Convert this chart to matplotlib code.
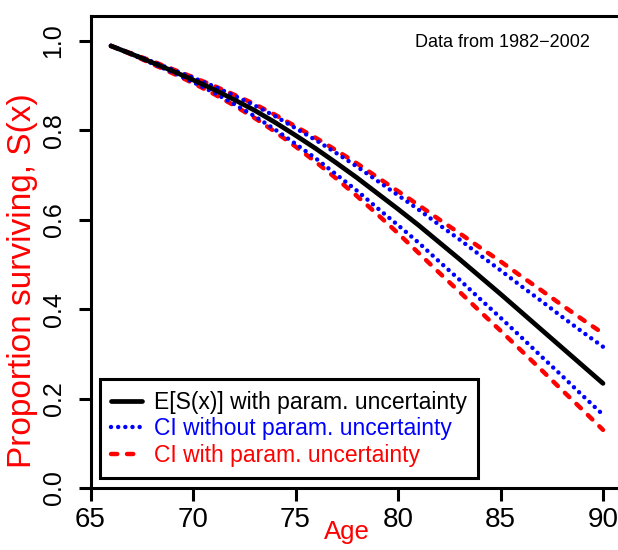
import numpy as np
import matplotlib
matplotlib.use('Agg')
import matplotlib.pyplot as plt

plt.rcParams['font.family'] = ['Liberation Sans', 'DejaVu Sans']

# Ages and survival curves
ages = list(range(66, 91))

mean_surv = [0.989, 0.971, 0.952, 0.933, 0.913, 0.892, 0.869, 0.845, 0.818, 0.789,
             0.759, 0.727, 0.694, 0.659, 0.624, 0.588, 0.550, 0.512, 0.473, 0.434,
             0.394, 0.354, 0.314, 0.274, 0.234]

ci_noparam_hi = [0.989, 0.972, 0.954, 0.936, 0.918, 0.899, 0.878, 0.856, 0.832, 0.805,
                 0.778, 0.749, 0.719, 0.687, 0.655, 0.623, 0.589, 0.556, 0.521, 0.487,
                 0.452, 0.418, 0.383, 0.349, 0.316]
ci_noparam_lo = [0.989, 0.970, 0.950, 0.930, 0.908, 0.885, 0.859, 0.832, 0.802, 0.770,
                 0.737, 0.701, 0.665, 0.626, 0.588, 0.549, 0.507, 0.466, 0.423, 0.381,
                 0.338, 0.294, 0.251, 0.207, 0.164]

ci_param_hi = [0.989, 0.972, 0.955, 0.937, 0.919, 0.900, 0.880, 0.859, 0.835, 0.809,
               0.783, 0.755, 0.726, 0.695, 0.664, 0.633, 0.601, 0.570, 0.538, 0.507,
               0.474, 0.442, 0.409, 0.377, 0.346]
ci_param_lo = [0.989, 0.970, 0.949, 0.928, 0.906, 0.882, 0.856, 0.828, 0.797, 0.764,
               0.729, 0.692, 0.653, 0.612, 0.570, 0.526, 0.482, 0.439, 0.395, 0.352,
               0.308, 0.264, 0.219, 0.175, 0.130]

x_ticks = [65, 70, 75, 80, 85, 90]
y_ticks = [0.0, 0.2, 0.4, 0.6, 0.8, 1.0]

W, H = 618, 550
fig = plt.figure(figsize=(W / 100, H / 100), dpi=100)
ax = fig.add_axes([90.5 / W, (H - 488) / H, 26 * 20.5 / W, (488 - 16) / H])

red_kw = dict(color='red', lw=3.2, linestyle=(0, (1.4, 2.2)), dash_capstyle='round')
blue_kw = dict(color='blue', lw=3.2, linestyle=(0, (0.01, 1.6)), dash_capstyle='round')

ax.plot(ages, ci_param_hi, **red_kw)
ax.plot(ages, ci_param_lo, **red_kw, label='CI with param. uncertainty')
ax.plot(ages, ci_noparam_hi, **blue_kw)
ax.plot(ages, ci_noparam_lo, **blue_kw, label='CI without param. uncertainty')
ax.plot(ages, mean_surv, color='black', lw=3.4, solid_capstyle='round',
        label='E[S(x)] with param. uncertainty')

ax.set_xlim(65, 91)
ax.set_ylim(0, 472 / 447)
ax.set_xticks(x_ticks)
ax.set_xticklabels([str(t) for t in x_ticks], fontsize=20)
ax.set_yticks(y_ticks)
ax.set_yticklabels([f'{t:.1f}' for t in y_ticks], fontsize=18, rotation=90, va='center')
ax.tick_params(axis='both', length=9, width=2.2, direction='out')
ax.tick_params(axis='x', pad=4.5)
ax.tick_params(axis='y', pad=9)
for sp in ax.spines.values():
    sp.set_linewidth(2.2)

ax.text(590 / W, 1 - 47 / H, 'Data from 1982\u22122002', transform=fig.transFigure,
        ha='right', va='baseline', fontsize=13)

fig.text(23 / W, 1 - 281 / H, 'Proportion surviving, S(x)', rotation=90,
         ha='center', va='center', fontsize=24, color='red')
fig.text(347 / W, (H - 539) / H, 'Age', ha='center', va='baseline', fontsize=18.5, color='red')

handles, labels = ax.get_legend_handles_labels()
order = [2, 1, 0]
leg = ax.legend([handles[i] for i in order], [labels[i] for i in order],
                loc='lower left', bbox_to_anchor=(100 / W, (H - 478) / H),
                bbox_transform=fig.transFigure, borderaxespad=0, fontsize=16.5,
                frameon=True, fancybox=False, framealpha=1, edgecolor='black',
                handlelength=1.35, handletextpad=0.5, labelspacing=0.15, borderpad=0.5,
                labelcolor=['black', 'blue', 'red'])
leg.get_frame().set_linewidth(2.2)

fig.savefig('out.png', dpi=100)
